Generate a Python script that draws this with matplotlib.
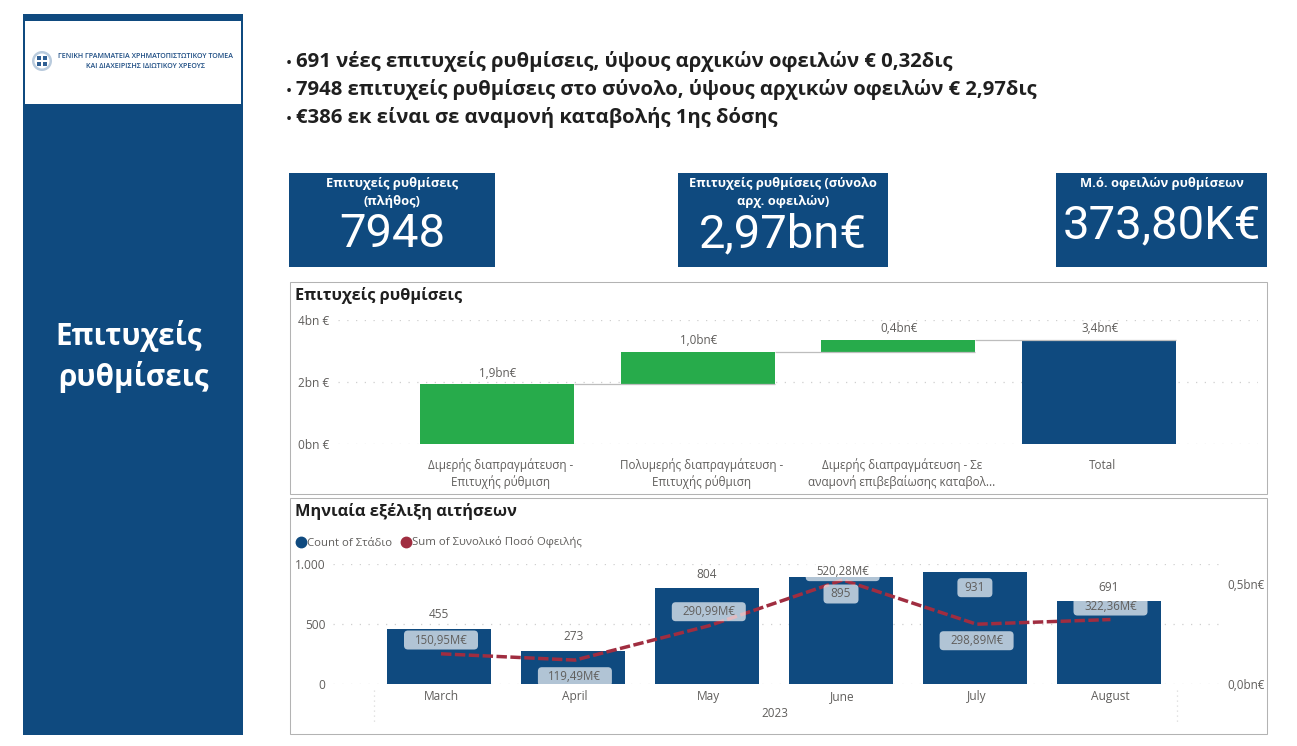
import numpy as np
import matplotlib
matplotlib.use("Agg")
import matplotlib.pyplot as plt
from matplotlib.patches import Rectangle, FancyBboxPatch, Circle
from matplotlib.lines import Line2D

# ---------- data ----------
headline = ["691 νέες επιτυχείς ρυθμίσεις, ύψους αρχικών οφειλών € 0,32δις",
            "7948 επιτυχείς ρυθμίσεις στο σύνολο, ύψους αρχικών οφειλών € 2,97δις",
            "€386 εκ είναι σε αναμονή καταβολής 1ης δόσης"]
kpi_titles = ["Επιτυχείς ρυθμίσεις\n(πλήθος)", "Επιτυχείς ρυθμίσεις (σύνολο\nαρχ. οφειλών)", "Μ.ό. οφειλών ρυθμίσεων"]
kpi_values = ["7948", "2,97bn€", "373,80K€"]

wf_categories = ["Διμερής διαπραγμάτευση -\nΕπιτυχής ρύθμιση",
                 "Πολυμερής διαπραγμάτευση -\nΕπιτυχής ρύθμιση",
                 "Διμερής διαπραγμάτευση - Σε\nαναμονή επιβεβαίωσης καταβολ...",
                 "Total"]
wf_steps = [1.93, 1.05, 0.38]
wf_labels = ["1,9bn€", "1,0bn€", "0,4bn€", "3,4bn€"]
wf_ticks = [0, 2, 4]
wf_ticklabels = ["0bn €", "2bn €", "4bn €"]

months = ["March", "April", "May", "June", "July", "August"]
counts = [455, 273, 804, 895, 931, 691]
amounts = [150.95, 119.49, 290.99, 520.28, 298.89, 322.36]  # M€
amount_labels = ["150,95M€", "119,49M€", "290,99M€", "520,28M€", "298,89M€", "322,36M€"]
count_labels = ["455", "273", "804", "895", "931", "691"]

# ---------- style ----------
W, H = 1297, 746
NAVY, GREEN, RED = "#0F4A7F", "#27AB4B", "#A02D40"
GREY, GRID, DARK, BORDER = "#605E5C", "#CFCFCF", "#1F1F1F", "#B3B3B3"
plt.rcParams["font.family"] = ["Open Sans", "DejaVu Sans"]
BIG = ["Roboto", "DejaVu Sans"]
DOT = (0, (1, 6))

fig = plt.figure(figsize=(W / 100, H / 100), dpi=100, facecolor="white")

def px_axes(x0, y0, x1, y1, **kw):
    return fig.add_axes([x0 / W, 1 - y1 / H, (x1 - x0) / W, (y1 - y0) / H], **kw)

def layer(z):
    a = fig.add_axes([0, 0, 1, 1], zorder=z)
    a.set_xlim(0, W); a.set_ylim(H, 0); a.axis("off"); a.patch.set_alpha(0)
    return a

bg, fg = layer(0), layer(10)

# sidebar
bg.add_patch(Rectangle((23, 14), 220, 721, color=NAVY, lw=0))
bg.add_patch(Rectangle((25, 21), 216, 83, color="white", lw=0))
bg.text(128.5, 335.5, "Επιτυχείς", color="white", fontsize=21.3, fontweight="bold", ha="center", va="center")
bg.text(133, 377, "ρυθμίσεις", color="white", fontsize=21.3, fontweight="bold", ha="center", va="center")
# logo
bg.add_patch(Circle((42, 61), 10, fc="#B9CBDD", ec="none"))
bg.add_patch(Circle((42, 61), 7.5, fc="white", ec="none"))
for dx in (-3.2, 3.2):
    for dy in (-3.2, 3.2):
        bg.add_patch(Rectangle((42 + dx - 2.2, 61 + dy - 2.2), 4.4, 4.4, color="#2F5F93", lw=0))
bg.text(145.5, 57, "ΓΕΝΙΚΗ ΓΡΑΜΜΑΤΕΙΑ ΧΡΗΜΑΤΟΠΙΣΤΩΤΙΚΟΥ ΤΟΜΕΑ", color="#1F4E84", fontsize=5.1,
        fontweight="semibold", ha="center", va="center")
bg.text(145.5, 67, "ΚΑΙ ΔΙΑΧΕΙΡΙΣΗΣ ΙΔΙΩΤΙΚΟΥ ΧΡΕΟΥΣ", color="#1F4E84", fontsize=5.1,
        fontweight="semibold", ha="center", va="center")

# headline
for y, t in zip((61, 89, 117), headline):
    bg.text(285.5, y + 3.5, "·", color=DARK, fontsize=15, fontweight="bold", ha="left", va="center")
    bg.text(296, y + 0.7, t, color=DARK, fontsize=14.6, fontweight="bold", ha="left", va="center")

# KPI cards
kpi_boxes = [(289, 495), (678, 888), (1056, 1267)]
for (x0, x1), title, val, ty, vy in zip(kpi_boxes, kpi_titles, kpi_values, (192.5, 192.5, 183), (234, 234, 225)):
    bg.add_patch(Rectangle((x0, 173), x1 - x0, 94, color=NAVY, lw=0))
    bg.text((x0 + x1) / 2, ty, title, color="white", fontsize=9.3, fontweight="bold", ha="center", va="center", linespacing=1.42)
    bg.text((x0 + x1) / 2, vy, val, color="white", family=BIG, fontsize=34, ha="center", va="center")

# panels
for y0, y1, t, ty, fs in ((281, 493, "Επιτυχείς ρυθμίσεις", 295.5, 11.7), (497, 733, "Μηνιαία εξέλιξη αιτήσεων", 511, 11.8)):
    bg.add_patch(Rectangle((289.5, y0 + .5), 977, y1 - y0, fc="white", ec=BORDER, lw=0.75))
    bg.text(295, ty, t, color=DARK, fontsize=fs, fontweight="bold", ha="left", va="center")

# ---------- waterfall ----------
ax = px_axes(338, 320, 1258, 444, zorder=1)
ax.patch.set_alpha(0)
ax.set_xlim((338 - 500.5) / 200.7, (1258 - 500.5) / 200.7)
ax.set_ylim(0, 4)
tops = np.cumsum(wf_steps)
bottoms = tops - np.array(wf_steps)
total = tops[-1]
xs = np.arange(len(wf_categories))
WSHIFT = -3.5 / 200.7
BW = 154 / 200.7
bx = xs + WSHIFT
for i in range(len(wf_steps)):
    ax.plot([bx[i] + BW / 2, bx[i + 1] + BW / 2], [tops[i], tops[i]], color="#BDBDBD", lw=0.9, zorder=4, solid_capstyle="butt")
ax.bar(bx[:3], wf_steps, bottom=bottoms, width=BW, color=GREEN, zorder=3)
ax.bar(bx[3], total, width=BW, color=NAVY, zorder=3)
ax.set_xticks(xs, wf_categories, color=GREY, fontsize=8.4, linespacing=1.22)
ax.set_yticks(wf_ticks, wf_ticklabels, color=GREY, fontsize=8.6)
ax.tick_params(length=0)
ax.tick_params(axis="x", pad=10.5)
ax.tick_params(axis="y", pad=6.5)
ax.grid(axis="y", color=GRID, lw=0.9, ls=DOT, zorder=0)
ax.grid(axis="x", visible=False)
for s in ax.spines.values():
    s.set_visible(False)
for x, top, lab in zip(bx, list(tops) + [total], wf_labels):
    ax.annotate(lab, (x, top), xytext=(0.7, 11 * 0.72), textcoords="offset points", color=GREY, fontsize=8.4, ha="center", va="center")

# ---------- monthly combo ----------
STEP = 133.9
am = px_axes(333, 564, 1220, 684, zorder=1)
am.patch.set_alpha(0)
am.set_xlim(-108 / STEP, 779 / STEP)
am.set_ylim(0, 1000)
mx = np.arange(len(months))
SHIFT = -1.7 / STEP
am.bar(mx + SHIFT, counts, width=104 / STEP, color=NAVY, zorder=3)
am.set_xticks(mx, months, color=GREY, fontsize=8.6)
am.set_yticks([0, 500, 1000], ["0", "500", "1.000"], color=GREY, fontsize=8.6)
am.tick_params(length=0)
am.tick_params(axis="x", pad=4.5)
am.tick_params(axis="y", pad=5.5)
am.grid(axis="y", color=GRID, lw=0.9, ls=DOT, zorder=0)
am.grid(axis="x", visible=False)
ar = am.twinx()
ar.patch.set_alpha(0)
ar.set_ylim(0, 600)
ar.set_yticks([0, 500], ["0,0bn€", "0,5bn€"], color=GREY, fontsize=8.4)
ar.tick_params(length=0, pad=5)
ar.plot(mx, amounts, color=RED, lw=2.5, ls=(0, (3.0, 1.0)), zorder=5)
for a in (am, ar):
    for s in a.spines.values():
        s.set_visible(False)

am.legend(handles=[Line2D([], [], ls="", marker="o", ms=7.5, color=NAVY, label="Count of Στάδιο"),
                   Line2D([], [], ls="", marker="o", ms=7.5, color=RED, label="Sum of Συνολικό Ποσό Οφειλής")],
          loc="center left", bbox_to_anchor=(290 / W, 1 - 542.5 / H), bbox_transform=fig.transFigure, ncols=2,
          frameon=False, fontsize=8.2, labelcolor=GREY, handletextpad=-0.5, columnspacing=0.2, borderpad=0, borderaxespad=0)

# year axis
fg.text(775, 713.5, "2023", color=GREY, fontsize=8.4, ha="center", va="center")
for x in (374, 1177):
    fg.plot([x, x], [690, 725], color="#DADADA", lw=0.9, ls=(0, (1, 3)))

# data labels on the top layer
def to_px(a, x, y):
    return fg.transData.inverted().transform(a.transData.transform((x, y)))

def pill(cx, cy, w):
    p = FancyBboxPatch((cx - w / 2 + 4, cy - 5.5), w - 8, 11, boxstyle="round,pad=4,rounding_size=4",
                       fc=(1, 1, 1, 0.68), ec="none", lw=0, zorder=2)
    fg.add_patch(p)

count_dy = [-14.4, -14.5, -13.5, 17.4, 15.4, -14]
count_pill = [False, False, False, True, True, False]
for i, (c, lab, dy, p) in enumerate(zip(counts, count_labels, count_dy, count_pill)):
    cx, cy = to_px(am, mx[i] + SHIFT, c)
    cy += dy
    if p:
        pill(cx, cy, 35)
    fg.text(cx, cy, lab, color=GREY, fontsize=8.6, ha="center", va="center", zorder=3)

amount_dy = [-13.8, 16.6, -14.1, -8.3, 16.5, -13.5]
for i, (v, lab, dy) in enumerate(zip(amounts, amount_labels, amount_dy)):
    cx, cy = to_px(ar, mx[i], v)
    cy += dy
    pill(cx, cy, 74)
    fg.text(cx, cy, lab, color=GREY, fontsize=8.3, ha="center", va="center", zorder=3)

fig.savefig("out.png", dpi=100, facecolor="white")
